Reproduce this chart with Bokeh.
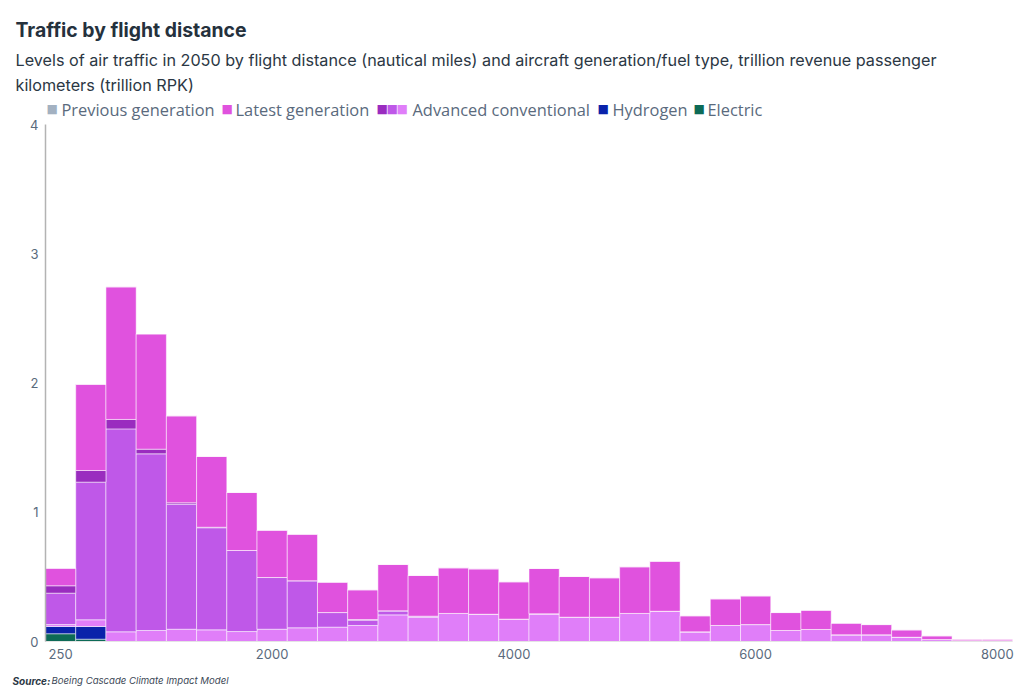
from bokeh.plotting import figure
from bokeh.models import Label, FixedTicker, Range1d, ColumnDataSource
from bokeh.embed import file_html
from bokeh.resources import INLINE

# ---- data (trillion RPK, 2050) ----
distance = [250, 500, 750, 1000, 1250, 1500, 1750, 2000, 2250, 2500, 2750, 3000,
            3250, 3500, 3750, 4000, 4250, 4500, 4750, 5000, 5250, 5500, 5750, 6000,
            6250, 6500, 6750, 7000, 7250, 7500, 7750, 8000]
electric = [0.060, 0.018, 0, 0, 0, 0, 0, 0, 0, 0, 0, 0, 0, 0, 0, 0,
            0, 0, 0, 0, 0, 0, 0, 0, 0, 0, 0, 0, 0, 0, 0, 0]
hydrogen = [0.056, 0.098, 0, 0, 0, 0, 0, 0, 0, 0, 0, 0, 0, 0, 0, 0,
            0, 0, 0, 0, 0, 0, 0, 0, 0, 0, 0, 0, 0, 0, 0, 0]
adv_light = [0.015, 0.052, 0.075, 0.085, 0.095, 0.090, 0.077, 0.095, 0.106, 0.111, 0.124, 0.206,
             0.186, 0.217, 0.211, 0.173, 0.214, 0.188, 0.188, 0.217, 0.234, 0.075, 0.124, 0.131,
             0.085, 0.093, 0.052, 0.052, 0.033, 0.015, 0.006, 0.006]
adv_mid = [0.243, 1.065, 1.570, 1.367, 0.967, 0.790, 0.627, 0.400, 0.364, 0.113, 0.040, 0.031,
           0.010, 0, 0, 0, 0, 0, 0, 0, 0, 0, 0, 0, 0, 0, 0, 0, 0, 0, 0, 0]
adv_dark = [0.057, 0.090, 0.073, 0.036, 0.011, 0.004, 0, 0, 0, 0, 0.006, 0,
            0, 0, 0, 0, 0, 0, 0, 0, 0, 0, 0, 0, 0, 0, 0, 0, 0, 0, 0, 0]
latest = [0.136, 0.667, 1.026, 0.892, 0.673, 0.548, 0.449, 0.366, 0.360, 0.235, 0.230, 0.359,
          0.315, 0.353, 0.351, 0.289, 0.351, 0.315, 0.305, 0.361, 0.387, 0.124, 0.206, 0.222,
          0.139, 0.149, 0.090, 0.079, 0.057, 0.029, 0.012, 0.012]
previous = [0] * 32
x_ticks = [250, 2000, 4000, 6000, 8000]
y_ticks = [0, 1, 2, 3, 4]

stackers = ["electric", "hydrogen", "adv_light", "adv_mid", "adv_dark", "latest", "previous"]
colors = ["#0d6a56", "#0a22aa", "#e07ef9", "#bf58e8", "#9a2cbf", "#e052de", "#a3b1c1"]

source = ColumnDataSource(dict(distance=distance, electric=electric, hydrogen=hydrogen,
                               adv_light=adv_light, adv_mid=adv_mid, adv_dark=adv_dark,
                               latest=latest, previous=previous))

W, H = 1016, 692
# plot area in page pixels: x 125..8125 -> 45..1012 ; y 0..4 -> 641..124
PX_X = 8000 / 967.0
PX_Y = 4 / 517.0
x0 = 125 - 45 * PX_X
x1 = 125 + (W - 45) * PX_X
y1 = 641 * PX_Y
y0 = -(H - 641) * PX_Y

p = figure(width=W, height=H, x_range=Range1d(x0, x1), y_range=Range1d(y0, y1),
           output_backend="svg", toolbar_location=None,
           min_border_left=0, min_border_right=0, min_border_top=0, min_border_bottom=0)

p.vbar_stack(stackers, x="distance", width=250, source=source,
             fill_color=colors, line_color="white", line_alpha=0.5, line_width=1)

p.xgrid.visible = False
p.ygrid.visible = False
p.outline_line_color = None
p.background_fill_color = "white"
p.border_fill_color = "white"

for ax in (p.xaxis, p.yaxis):
    ax.major_tick_line_color = None
    ax.minor_tick_line_color = None
    ax.major_label_text_font = "Inter"
    ax.major_label_text_font_size = "13px"
    ax.major_label_text_color = "#5a6a7d"
    ax.major_label_standoff = 1
p.xaxis.ticker = FixedTicker(ticks=x_ticks)
p.yaxis.ticker = FixedTicker(ticks=y_ticks)
p.yaxis.fixed_location = 125
p.yaxis.bounds = (0, 4)
p.xaxis.fixed_location = 0
p.xaxis.bounds = (125, 8125)
p.yaxis.axis_line_color = "#b3b3b3"
p.yaxis.axis_line_width = 1.5
p.xaxis.axis_line_color = "#e4e4e4"


def txt(X, Y, text, size, color, font="Inter", style="normal", align="left", baseline="middle"):
    p.add_layout(Label(x=X, y=H - Y, x_units="screen", y_units="screen", text=text,
                       text_font=font, text_font_size=size, text_color=color,
                       text_font_style=style, text_align=align, text_baseline=baseline))


# title and subtitle
txt(15, 29, "Traffic by flight distance", "19.4px", "#25313d", style="bold")
txt(15, 59, "Levels of air traffic in 2050 by flight distance (nautical miles) and aircraft "
            "generation/fuel type, trillion revenue passenger", "16.2px", "#2b3744")
txt(15, 84.5, "kilometers (trillion RPK)", "16.2px", "#2b3744")

# legend
leg_col = "#5a6a7d"
sq = "12px"
LY = 108.5
LF = "16.4px"
txt(46, LY, "\u25A0", sq, "#a3b1c1", font="DejaVu Sans")
txt(61, LY, "Previous generation", LF, leg_col, font="Open Sans")
txt(221, LY, "\u25A0", sq, "#e052de", font="DejaVu Sans")
txt(235, LY, "Latest generation", LF, leg_col, font="Open Sans")
txt(376, LY, "\u25A0", sq, "#9a2cbf", font="DejaVu Sans")
txt(386, LY, "\u25A0", sq, "#bf58e8", font="DejaVu Sans")
txt(396, LY, "\u25A0", sq, "#e07ef9", font="DejaVu Sans")
txt(412, LY, "Advanced conventional", LF, leg_col, font="Open Sans")
txt(597, LY, "\u25A0", sq, "#0a22aa", font="DejaVu Sans")
txt(612, LY, "Hydrogen", LF, leg_col, font="Open Sans")
txt(693, LY, "\u25A0", sq, "#0d6a56", font="DejaVu Sans")
txt(707, LY, "Electric", LF, leg_col, font="Open Sans")

# source
txt(12, 680, "Source:", "10px", "#2b3744", style="bold italic")
txt(51, 680, "Boeing Cascade Climate Impact Model", "9.6px", "#3c4856", style="italic")

open("out.html", "w").write(file_html(p, INLINE))
